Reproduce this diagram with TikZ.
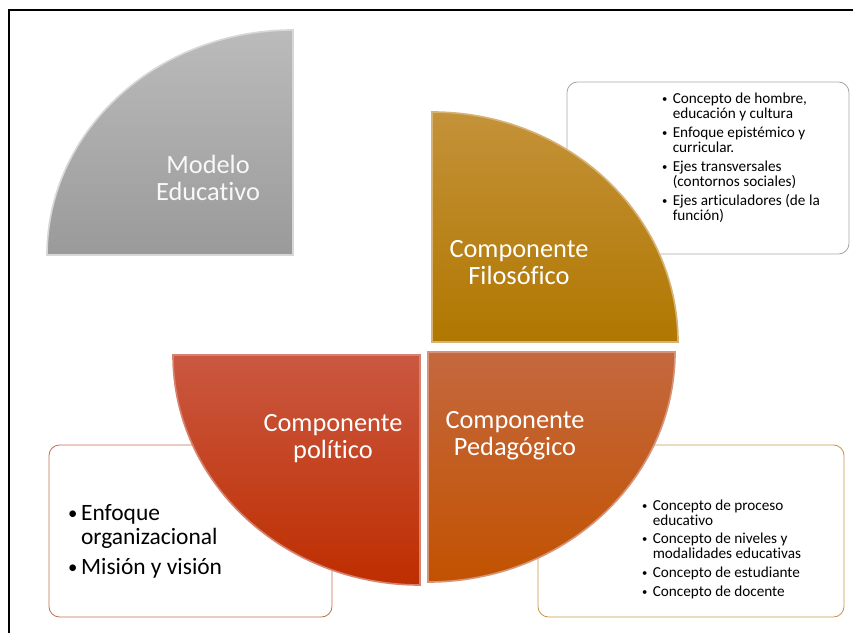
\documentclass[tikz,border=0pt]{standalone}
\usepackage{fontspec}
\setmainfont{Carlito}[Ligatures={NoCommon}]
\usepackage{graphicx}
\usepackage{tikz}

\definecolor{greyTop}{HTML}{BBBBBB}
\definecolor{greyBot}{HTML}{9A9A9A}
\definecolor{goldTop}{HTML}{C49239}
\definecolor{goldBot}{HTML}{B07700}
\definecolor{pedaTop}{HTML}{C4683F}
\definecolor{pedaBot}{HTML}{C25200}
\definecolor{poliTop}{HTML}{CA5841}
\definecolor{poliBot}{HTML}{BE2E00}
\definecolor{boxGrey}{HTML}{A8A8A8}
\definecolor{boxGold}{HTML}{C8954E}
\definecolor{boxRed}{HTML}{C2714F}

\newcommand{\bul}{\makebox[9pt][l]{\raisebox{0.12ex}{\scalebox{0.7}{\textbullet}}}}
\newcommand{\ind}{\hspace*{9pt}}

\tikzset{
    infobox/.style={draw, rounded corners=9pt, fill=white, line width=0.7pt},
    quarter/.style={line width=1.4pt},
    bigtext/.style={text=white, align=center, font=\fontsize{22.5}{23}\selectfont},
    smalllist/.style={anchor=north west, inner sep=0pt, align=left, font=\fontsize{13}{12.8}\selectfont},
}

\begin{document}
\begin{tikzpicture}[x=0.03cm, y=0.03cm]
    \useasboundingbox (0,0) rectangle (853,633);

    % Frame
    \draw[line width=1pt] (9,0) -- (9,623) -- (853,623);

    % Info boxes behind the quarters
    \draw[infobox, draw=boxGrey] (567,379) rectangle (849,551);
    \draw[infobox, draw=boxGold] (538,16) rectangle (844,188);
    \draw[infobox, draw=boxRed] (49,16) rectangle (332,188);

    % Modelo Educativo
    \shade[top color=greyTop, bottom color=greyBot] (293,378) -- (47,378)
        arc[start angle=180, end angle=90, x radius=246, y radius=225] -- cycle;
    \draw[quarter, draw=white!60!greyBot] (293,378) -- (47,378)
        arc[start angle=180, end angle=90, x radius=246, y radius=225] -- cycle;
    \node[bigtext, text=white!90!greyTop] (modelo) at (208,455) {Modelo\\Educativo};

    % Componente Filosofico
    \shade[top color=goldTop, bottom color=goldBot] (432,291) -- (432,521)
        arc[start angle=90, end angle=0, x radius=246, y radius=230] -- cycle;
    \draw[quarter, draw=goldTop!70!white] (432,291) -- (432,521)
        arc[start angle=90, end angle=0, x radius=246, y radius=230] -- cycle;
    \node[bigtext] (filosofico) at (519,370) {Componente\\Filosófico};

    % Componente Pedagogico
    \shade[top color=pedaTop, bottom color=pedaBot] (428,281) -- (675,281)
        arc[start angle=0, end angle=-90, x radius=247, y radius=230] -- cycle;
    \draw[quarter, draw=pedaTop!70!white] (428,281) -- (675,281)
        arc[start angle=0, end angle=-90, x radius=247, y radius=230] -- cycle;
    \node[bigtext] (pedagogico) at (515,197) {Componente\\Pedagógico};

    % Componente politico
    \shade[top color=poliTop, bottom color=poliBot] (420,278) -- (420,48)
        arc[start angle=270, end angle=180, x radius=247, y radius=230] -- cycle;
    \draw[quarter, draw=poliTop!75!white] (420,278) -- (420,48)
        arc[start angle=270, end angle=180, x radius=247, y radius=230] -- cycle;
    \node[bigtext] (politico) at (333,194) {Componente\\político};

    % Lists
    \node[smalllist] (listaFilo) at (662,540) {
        \bul Concepto de hombre,\\ \ind educación y cultura\\[3.4pt]
        \bul Enfoque epistémico y\\ \ind curricular.\\[3.4pt]
        \bul Ejes transversales\\ \ind (contornos sociales)\\[3.4pt]
        \bul Ejes articuladores (de la\\ \ind función)
    };
    \node[smalllist] (listaPeda) at (642,133) {
        \bul Concepto de proceso\\ \ind educativo\\[2pt]
        \bul Concepto de niveles y\\ \ind modalidades educativas\\[3.4pt]
        \bul Concepto de estudiante\\[3.4pt]
        \bul Concepto de docente
    };
    \node[smalllist, font=\fontsize{20}{20.5}\selectfont] (listaPoli) at (68,129) {
        \makebox[11pt][l]{\raisebox{0.1ex}{\scalebox{0.8}{\textbullet}}}Enfoque\\ \hspace*{11pt}organizacional\\[5pt]
        \makebox[11pt][l]{\raisebox{0.1ex}{\scalebox{0.8}{\textbullet}}}Misión y visión
    };
\end{tikzpicture}
\end{document}
